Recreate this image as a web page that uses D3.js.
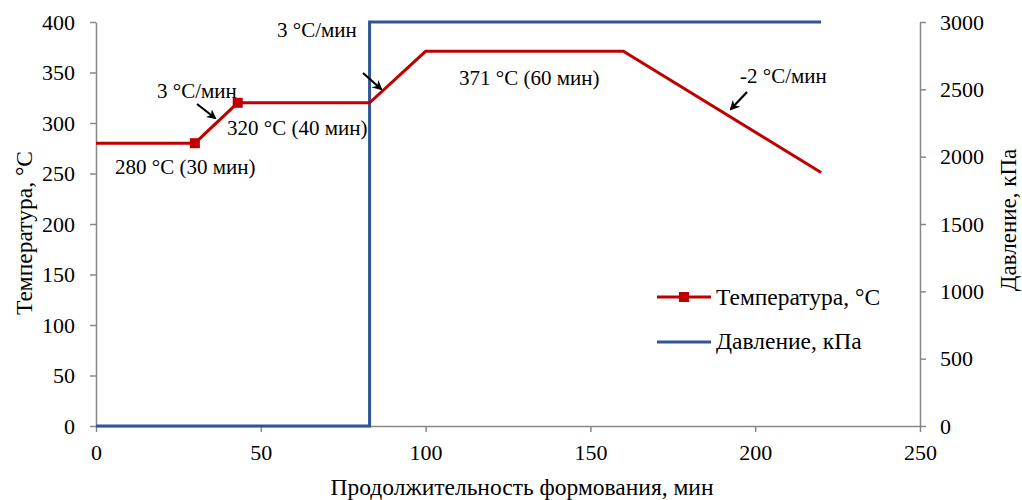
<!DOCTYPE html>
<html>
<head>
<meta charset="utf-8">
<script src="https://cdn.jsdelivr.net/npm/d3@7"></script>
<style>
 body { margin:0; background:#fff; }
 svg text { font-family:"Times New Roman","Liberation Serif",Times,"DejaVu Serif",serif !important; fill:#000; }
</style>
</head>
<body>
<script>
// temperature profile, minutes / °C
var tempTime = [0, 30, 43, 83, 100, 160, 220];
var tempVal  = [280, 280, 320, 320, 371, 371, 251];
var markerIdx = [1, 2];   // only these points carry a marker

// pressure, minutes / kPa
var presTime = [0, 83, 83, 220];
var presVal  = [0, 0, 3000, 3000];

var xTicks = [0, 50, 100, 150, 200, 250];
var yTicks = [0, 50, 100, 150, 200, 250, 300, 350, 400];
var y2Ticks = [0, 500, 1000, 1500, 2000, 2500, 3000];

var notes = [
  {t:"3 °C/мин",         x:157, y:98,  ax1:197, ay1:104, ax2:215, ay2:118},
  {t:"3 °C/мин",         x:277, y:37,  ax1:363, ay1:73,  ax2:381, ay2:89},
  {t:"-2 °C/мин",        x:740, y:83,  ax1:747, ay1:92,  ax2:731, ay2:109},
  {t:"280 °C (30 мин)",  x:115, y:174},
  {t:"320 °C (40 мин)",  x:227, y:135},
  {t:"371 °C (60 мин)",  x:459, y:85}
];

var W = 1022, H = 500;
var red = "#C00000", blue = "#2F5597", axisCol = "#888";

var svg = d3.select("body").append("svg").attr("width", W).attr("height", H);

var x = d3.scaleLinear().domain([0, 250]).range([96, 920]);
var y = d3.scaleLinear().domain([0, 400]).range([426, 22]);
var y2 = d3.scaleLinear().domain([0, 3000]).range([426, 22]);

function styleAxis(g) {
  g.attr("font-family", null).attr("font-size", null);
  g.select(".domain").attr("stroke", axisCol).attr("stroke-width", 1.5);
  g.selectAll(".tick line").attr("stroke", axisCol).attr("stroke-width", 1.5);
  g.selectAll(".tick text").style("font-size", "22px");
}

svg.append("g").attr("transform", "translate(0,426)")
  .call(d3.axisBottom(x).tickValues(xTicks).tickFormat(d3.format("d")).tickSize(6).tickSizeOuter(0).tickPadding(12))
  .call(styleAxis);
svg.append("g").attr("transform", "translate(96,0)")
  .call(d3.axisLeft(y).tickValues(yTicks).tickFormat(d3.format("d")).tickSize(6).tickSizeOuter(0).tickPadding(15))
  .call(styleAxis);
svg.append("g").attr("transform", "translate(920,0)")
  .call(d3.axisRight(y2).tickValues(y2Ticks).tickFormat(d3.format("d")).tickSize(6).tickSizeOuter(0).tickPadding(14))
  .call(styleAxis);

// pressure line
var presData = presTime.map(function(t, i) { return [t, presVal[i]]; });
svg.append("path").datum(presData)
  .attr("fill", "none").attr("stroke", blue).attr("stroke-width", 3)
  .attr("d", d3.line().x(function(d) { return x(d[0]); }).y(function(d) { return y2(d[1]); }));

// temperature line
var tempData = tempTime.map(function(t, i) { return [t, tempVal[i]]; });
svg.append("path").datum(tempData)
  .attr("fill", "none").attr("stroke", red).attr("stroke-width", 3)
  .attr("d", d3.line().x(function(d) { return x(d[0]); }).y(function(d) { return y(d[1]); }));

svg.selectAll("rect.mk").data(markerIdx).enter().append("rect")
  .attr("class", "mk")
  .attr("x", function(i) { return x(tempTime[i]) - 5; })
  .attr("y", function(i) { return y(tempVal[i]) - 5; })
  .attr("width", 10).attr("height", 10)
  .attr("fill", red);

// arrows
svg.append("defs").append("marker")
  .attr("id", "ah").attr("viewBox", "0 0 10 10").attr("refX", 8).attr("refY", 5)
  .attr("markerWidth", 4.5).attr("markerHeight", 4.5).attr("orient", "auto")
  .append("path").attr("d", "M0,0L10,5L0,10L3,5Z").attr("fill", "#000");

svg.selectAll("line.arr").data(notes.filter(function(d) { return d.ax1; })).enter()
  .append("line").attr("class", "arr")
  .attr("x1", function(d) { return d.ax1; }).attr("y1", function(d) { return d.ay1; })
  .attr("x2", function(d) { return d.ax2; }).attr("y2", function(d) { return d.ay2; })
  .attr("stroke", "#000").attr("stroke-width", 2.2).attr("marker-end", "url(#ah)");

svg.selectAll("text.note").data(notes).enter().append("text")
  .attr("class", "note")
  .attr("x", function(d) { return d.x; }).attr("y", function(d) { return d.y; })
  .style("font-size", "21px")
  .text(function(d) { return d.t; });

// legend
var leg = svg.append("g");
leg.append("line").attr("x1", 657).attr("x2", 711).attr("y1", 297).attr("y2", 297)
  .attr("stroke", red).attr("stroke-width", 3);
leg.append("rect").attr("x", 679).attr("y", 292).attr("width", 10).attr("height", 10).attr("fill", red);
leg.append("text").attr("x", 716).attr("y", 305).style("font-size", "23.5px").text("Температура, °C");
leg.append("line").attr("x1", 657).attr("x2", 711).attr("y1", 342).attr("y2", 342)
  .attr("stroke", blue).attr("stroke-width", 3);
leg.append("text").attr("x", 716).attr("y", 349).style("font-size", "23.5px").text("Давление, кПа");

// axis titles
svg.append("text").attr("x", 522).attr("y", 495).attr("text-anchor", "middle")
  .style("font-size", "23.5px").text("Продолжительность формования, мин");
svg.append("text").attr("transform", "translate(32,233) rotate(-90)").attr("text-anchor", "middle")
  .style("font-size", "23.5px").text("Температура, °C");
svg.append("text").attr("transform", "translate(1016,220) rotate(-90)").attr("text-anchor", "middle")
  .style("font-size", "23px").text("Давление, кПа");
</script>
</body>
</html>
